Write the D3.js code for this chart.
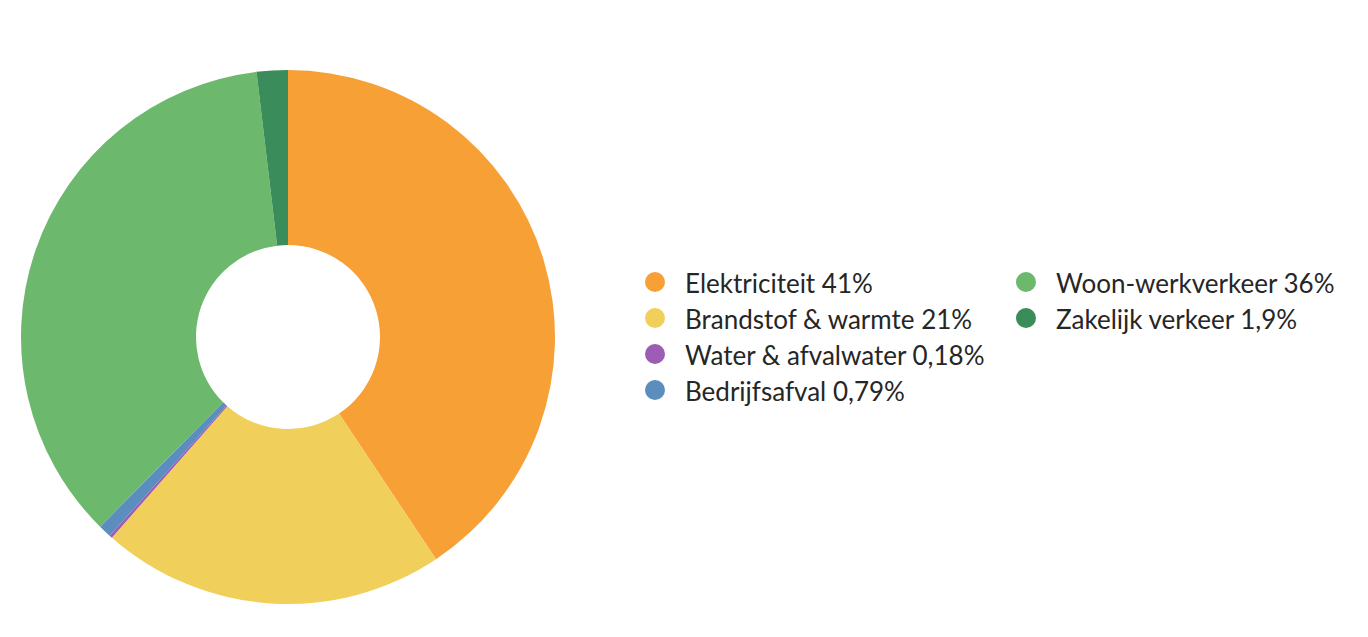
<!DOCTYPE html>
<html>
<head>
<meta charset="utf-8">
<script src="https://cdn.jsdelivr.net/npm/d3@7"></script>
<style>
  html, body { margin: 0; padding: 0; background: #fff; }
  svg { display: block; }
</style>
</head>
<body>
<script>
// data
const categories = ["Elektriciteit", "Brandstof & warmte", "Water & afvalwater", "Bedrijfsafval", "Woon-werkverkeer", "Zakelijk verkeer"]
const values = [41, 21, 0.18, 0.79, 36, 1.9]
const valueLabels = ["41%", "21%", "0,18%", "0,79%", "36%", "1,9%"]
const colors = ["#F6A036", "#F0D05A", "#9E5DB4", "#5B8DBF", "#6CB86D", "#3A8D5B"]

const width = 1368
const height = 637

const svg = d3.select("body").append("svg")
  .attr("width", width)
  .attr("height", height)

const data = categories.map((c, i) => ({ name: c, value: values[i], label: valueLabels[i], color: colors[i] }))

// donut
const pie = d3.pie().sort(null).value(d => d.value)
const arc = d3.arc().innerRadius(92).outerRadius(267)

svg.append("g")
  .attr("transform", "translate(288,337)")
  .selectAll("path")
  .data(pie(data))
  .join("path")
    .attr("fill", d => d.data.color)
    .attr("d", arc)

// legend: two columns, first holds 4 items
const legend = svg.append("g")
  .style("font", "26px Lato, sans-serif")
  .selectAll("g")
  .data(data)
  .join("g")
    .attr("transform", (d, i) => i < 4
      ? `translate(655,${282 + i * 36})`
      : `translate(1026,${282 + (i - 4) * 36})`)

legend.append("circle")
  .attr("r", 10)
  .attr("fill", d => d.color)

legend.append("text")
  .attr("x", 30)
  .attr("y", 11)
  .attr("fill", "#262626")
  .text(d => `${d.name} ${d.label}`)
</script>
</body>
</html>
